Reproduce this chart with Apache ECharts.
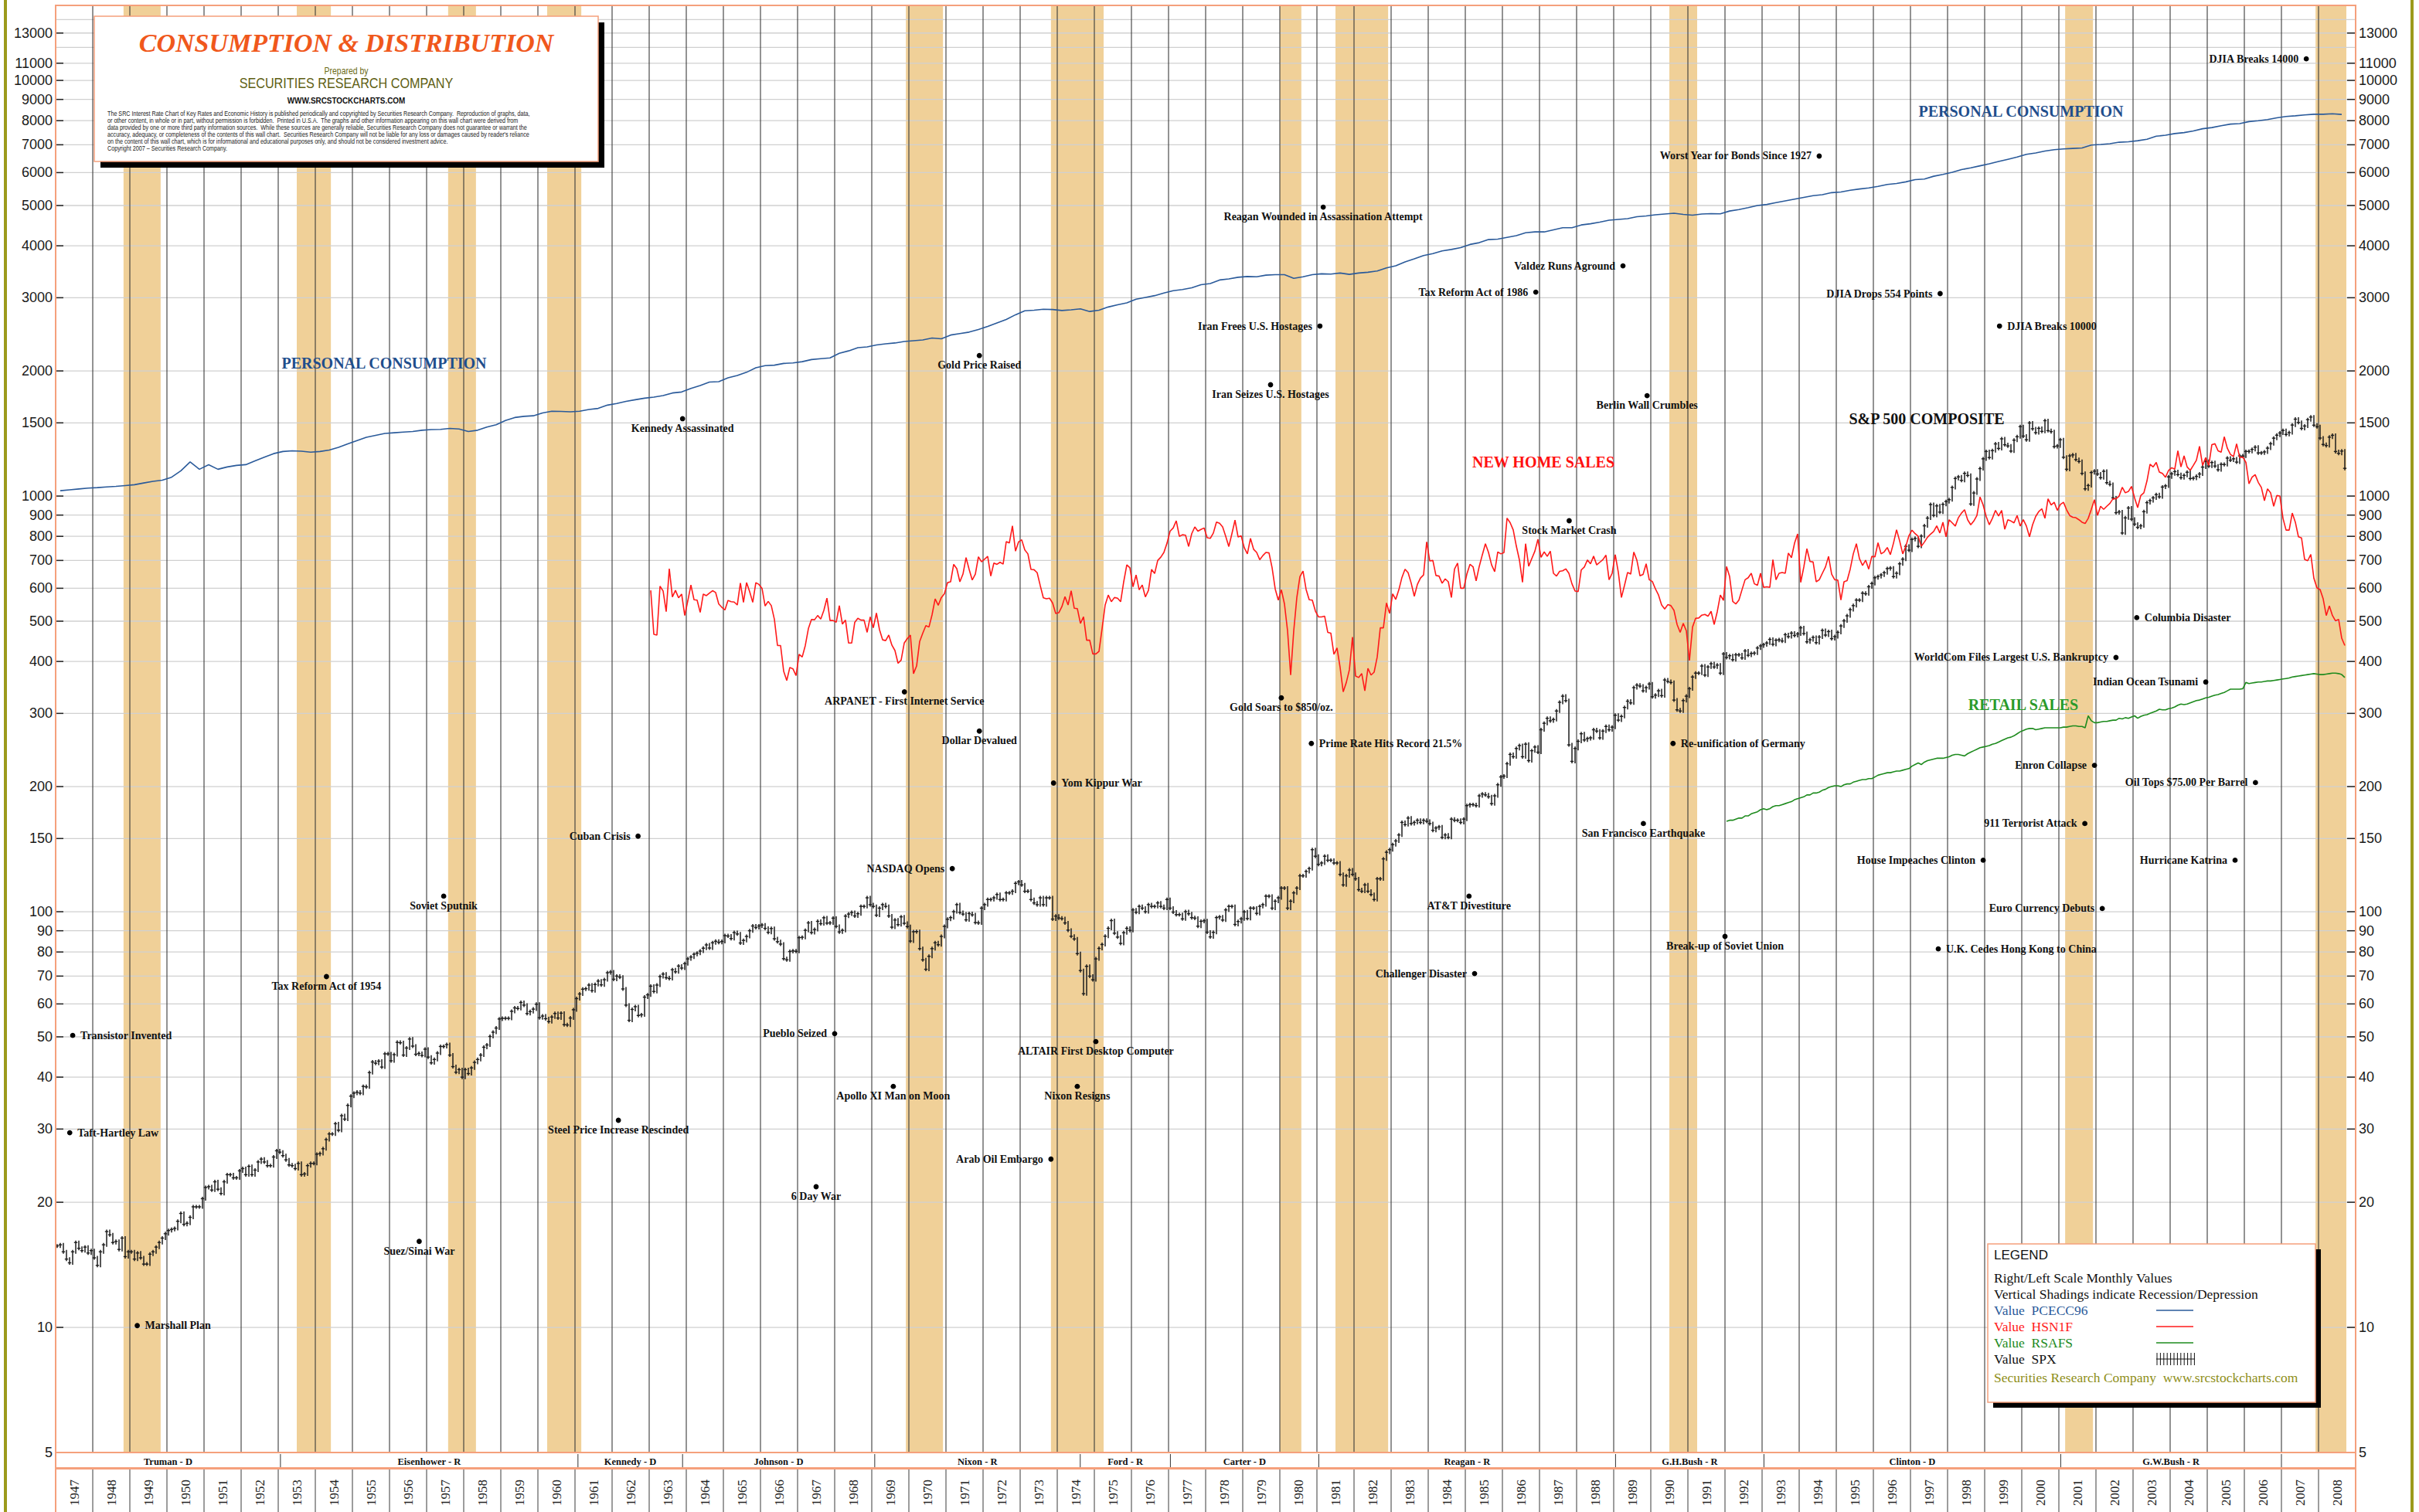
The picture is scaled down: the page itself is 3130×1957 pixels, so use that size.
<!DOCTYPE html>
<html><head><meta charset="utf-8">
<script src="https://cdn.jsdelivr.net/npm/echarts/dist/echarts.min.js"></script>
<style>html,body{margin:0;padding:0;background:#fff;}#c{width:3130px;height:1957px;}</style>
</head><body><div id="c"></div>
<script>
// ---------------- DATA ----------------
const yTickValues = [5,10,20,30,40,50,60,70,80,90,100,150,200,300,400,500,600,700,800,900,1000,1500,2000,3000,4000,5000,6000,7000,8000,9000,10000,11000,13000];
const yGridExtra = [12000,14000];
const yearLabels = Array.from({length:62},(_,i)=>1947+i);
const recessionStart = [1948.83,1953.5,1957.58,1960.25,1969.92,1973.83,1980.0,1981.5,1990.5,2001.17,2007.92];
const recessionEnd   = [1949.83,1954.42,1958.33,1961.17,1970.92,1975.25,1980.58,1982.92,1991.25,2001.92,2008.75];
const presNames = ['Truman - D','Eisenhower - R','Kennedy - D','Johnson - D','Nixon - R','Ford - R','Carter - D','Reagan - R','G.H.Bush - R','Clinton - D','G.W.Bush - R',''];
const presStart = [1947,1953.06,1961.08,1963.9,1969.08,1974.62,1977.05,1981.05,1989.05,1993.05,2001.05,2007.0];
const presEnd   = [1953.06,1961.08,1963.9,1969.08,1974.62,1977.05,1981.05,1989.05,1993.05,2001.05,2007.0,2009];

// S&P 500 monthly closes from Jan 1947
const spxStart = 1947;
const spxClose = [
15.7,15.8,15.2,14.6,14.3,15.2,16.0,15.5,15.3,15.6,15.1,15.3,
14.7,14.1,15.2,15.8,17.0,16.7,16.0,16.1,15.4,16.4,14.8,15.2,
15.2,14.6,15.1,14.7,14.2,14.2,15.0,15.2,15.6,16.0,16.4,16.8,
17.1,17.2,17.3,18.0,18.8,17.7,17.8,18.4,19.5,19.5,19.5,20.4,
21.7,21.8,21.4,22.4,21.5,21.0,22.4,23.3,23.3,22.9,22.9,23.8,
24.1,23.3,24.4,23.3,23.9,25.0,25.4,25.0,24.5,24.5,25.7,26.6,
26.4,25.9,25.3,24.6,24.5,24.1,24.8,23.3,23.4,24.5,24.8,24.8,
26.1,26.2,26.9,28.3,29.2,29.2,30.9,29.8,32.3,31.7,34.2,36.0,
36.6,36.8,36.6,38.0,37.9,41.0,43.5,43.2,43.7,42.3,45.5,45.5,
43.8,45.3,48.5,48.4,45.2,47.0,49.4,47.5,45.4,45.6,45.1,46.7,
44.7,43.3,44.1,45.7,47.4,47.4,47.9,45.2,42.4,41.1,41.7,40.0,
41.7,40.8,42.1,43.4,44.1,45.2,47.2,47.8,50.1,51.3,52.5,55.2,
55.4,55.4,55.4,57.6,58.7,58.5,60.5,59.6,56.9,57.5,58.3,59.9,
55.6,56.1,55.3,54.4,55.8,56.9,55.5,57.0,53.5,53.4,55.5,58.1,
61.8,63.4,65.1,65.3,66.6,64.6,66.8,68.1,66.7,68.6,71.3,71.6,
68.8,70.0,69.6,65.2,59.6,54.8,58.2,59.1,56.3,56.5,62.3,63.1,
66.2,64.3,66.6,69.8,70.8,69.4,69.1,72.5,71.7,74.0,73.2,75.0,
77.0,77.8,79.0,79.5,80.4,81.7,83.2,81.8,84.2,84.9,84.4,84.8,
87.6,87.4,86.2,89.1,88.4,84.1,85.3,87.2,90.0,92.4,91.6,92.4,
92.9,91.2,89.2,91.1,86.1,84.7,83.6,77.1,76.6,80.2,80.5,80.3,
86.6,86.8,90.2,94.0,89.1,90.6,94.8,93.6,96.7,93.9,94.0,96.5,
92.2,89.4,90.2,97.6,98.7,99.6,97.7,98.9,103,103,108,104,
103,98.1,102,104,103,97.7,91.8,95.5,93.1,97.2,93.8,92.1,
85.0,89.5,89.6,81.5,76.6,72.7,78.1,81.5,84.2,83.3,87.2,92.2,
95.9,96.8,100,104,99.6,98.7,95.6,99.0,98.3,94.2,94.0,102,
104,107,107,108,110,107,107,111,111,112,117,118,
116,112,112,107,105,104,108,104,108,108,96.0,97.6,
96.6,96.2,94.0,90.3,87.3,86.0,79.3,72.2,63.5,73.9,70.0,68.6,
77.0,81.6,83.4,87.3,91.2,95.2,88.8,86.9,83.9,89.0,91.2,90.2,
101,99.7,103,102,100,104,103,103,105,103,102,107,
102,99.8,98.4,98.4,96.1,100,98.9,96.8,96.5,92.3,94.8,95.1,
89.3,87.0,89.2,96.8,97.2,95.5,101,103,103,93.2,94.7,96.1,
99.9,96.3,102,102,99.1,103,104,109,109,102,106,108,
114,114,102,106,111,114,122,122,125,127,141,136,
130,131,136,133,133,131,131,123,116,122,126,123,
120,113,112,116,112,110,107,120,120,134,139,141,
145,148,153,164,162,168,163,164,166,164,166,165,
163,157,159,160,151,153,151,167,166,166,164,167,
180,181,181,180,190,192,191,189,182,190,202,211,
212,227,239,236,247,251,236,253,231,244,249,242,
274,284,292,288,290,304,319,330,322,252,230,247,
257,268,259,261,262,274,272,262,272,279,274,278,
297,289,295,310,321,318,346,351,349,340,346,353,
329,332,340,331,361,358,356,323,306,304,322,330,
344,367,375,375,390,371,388,395,388,392,375,417,
409,413,404,415,415,408,424,414,418,419,431,436,
439,443,452,440,450,451,448,464,459,468,462,466,
482,467,446,451,457,444,458,475,463,472,454,459,
470,487,501,515,533,545,562,562,584,582,605,616,
636,640,646,654,669,671,640,652,687,705,757,741,
786,791,757,801,848,885,954,899,947,915,955,970,
980,1049,1102,1112,1091,1134,1121,957,1017,1099,1164,1229,
1280,1238,1286,1335,1302,1373,1329,1320,1283,1363,1389,1469,
1394,1366,1499,1452,1421,1455,1431,1518,1437,1429,1315,1320,
1366,1240,1160,1249,1256,1224,1211,1134,1041,1060,1139,1148,
1130,1107,1147,1077,1067,990,912,916,815,886,936,880,
856,841,848,917,964,975,990,1008,996,1051,1058,1112,
1131,1145,1126,1107,1121,1141,1102,1104,1115,1130,1174,1212,
1181,1204,1181,1157,1192,1191,1234,1220,1229,1207,1249,1248,
1280,1281,1295,1311,1270,1270,1277,1304,1336,1378,1401,1418,
1438,1407,1421,1482,1531,1503,1455,1474,1527,1549,1481,1468,
1379,1331,1323,1386,1400,1280,1267,1283,1166];

// New home sales (HSN1F) monthly from Jan 1963
const homeStart = 1963;
const homeSales = [
593,465,463,607,591,527,669,572,593,569,581,516,
560,611,563,562,525,581,576,584,592,586,550,540,
532,561,557,556,547,618,555,619,589,555,619,613,
600,544,558,545,505,437,437,379,360,387,384,370,
416,410,437,480,505,504,516,506,531,568,502,502,
497,545,492,503,443,443,497,508,503,503,470,512,
482,523,477,451,449,463,438,425,396,403,443,454,
463,374,390,447,468,488,484,518,566,546,570,582,
619,622,685,669,622,649,711,666,628,649,714,695,
705,716,642,690,685,693,686,777,771,848,737,776,
785,742,726,666,665,654,609,569,566,568,553,522,
524,542,573,547,592,537,536,494,512,450,450,417,
417,423,480,547,578,557,570,568,557,622,683,672,
605,646,595,611,572,593,666,651,700,713,732,770,
823,838,872,800,807,805,756,812,843,823,831,838,
794,791,815,866,860,843,800,756,812,875,797,802,
751,726,791,745,732,703,719,732,730,672,598,562,
595,550,474,371,474,570,640,660,596,563,562,529,
512,512,514,470,468,416,431,387,338,356,382,458,
369,366,374,340,385,371,377,410,482,482,553,522,
582,564,595,637,667,654,617,574,613,635,646,776,
698,700,644,642,617,632,622,570,667,690,600,600,
649,685,676,625,677,722,768,732,683,658,734,726,
731,885,863,829,758,702,620,768,678,707,737,787,
712,734,716,737,652,642,659,661,668,652,615,591,
589,664,675,702,687,717,683,693,703,721,629,652,
723,655,570,610,655,649,733,701,643,648,687,629,
623,598,578,547,535,548,545,531,491,470,494,474,
402,484,508,509,517,519,514,528,491,527,578,561,
677,640,558,550,562,595,629,636,652,615,610,652,
603,605,603,703,629,652,655,652,729,711,770,811,
620,675,747,696,694,622,629,652,675,716,649,629,
628,562,622,626,667,726,768,707,681,701,667,716,
714,772,726,734,752,723,770,830,780,726,757,803,
828,812,800,757,775,796,810,822,848,815,865,798,
877,862,847,887,910,927,877,853,871,898,995,952,
893,853,884,924,895,924,832,877,871,862,898,847,
877,847,798,853,893,918,932,884,985,952,966,924,
955,966,927,898,889,887,877,865,859,884,929,980,
898,945,929,945,960,985,985,1000,1050,1018,1026,1055,
990,938,1003,1018,1087,1193,1175,1205,1142,1134,1110,1153,
1170,1161,1285,1175,1250,1175,1153,1185,1220,1317,1185,1238,
1185,1330,1336,1285,1275,1389,1303,1260,1245,1336,1238,1241,
1205,1071,1110,1126,1079,1049,975,1041,1018,945,1003,1000,
884,828,828,910,865,798,793,704,699,724,634,601,
596,566,516,544,516,501,505,455,437];

// Retail sales (RSAFS, $bn) monthly from Jan 1992
const retailStart = 1992;
const retailSales = [
165,166,166,167,168,168,170,170,172,173,174,176,
177,176,177,179,180,180,181,182,183,184,186,187,
188,189,191,191,193,193,194,196,197,199,200,201,
201,200,202,203,203,205,206,207,208,208,209,209,
211,213,214,215,216,216,217,218,218,219,220,221,
224,226,228,226,229,231,232,233,234,234,234,235,
236,238,239,239,238,237,240,242,244,246,248,249,
250,251,253,254,256,258,260,262,263,265,268,271,
273,275,276,276,274,275,276,277,277,277,277,277,
277,278,278,279,280,280,279,279,277,296,288,285,
285,286,287,287,288,289,289,292,291,293,292,294,
296,292,295,297,298,300,302,304,307,306,306,308,
309,311,314,316,315,316,318,320,322,323,325,327,
328,330,332,333,335,337,340,343,343,343,343,344,
356,354,355,356,357,357,358,359,359,360,361,362,
363,364,365,367,368,369,370,371,372,373,374,373,
372,372,373,374,375,375,374,372,366];

// Personal consumption (PCECC96) quarterly from 1947 Q1
const pceStart = 1947;
const pceQuarterly = [
1030,1035,1040,1045, 1048,1052,1055,1060, 1065,1075,1085,1092, 1110,1150,1208,1160,
1190,1160,1175,1185, 1190,1215,1240,1265, 1280,1285,1282,1275, 1280,1290,1310,1335,
1360,1385,1400,1415, 1420,1425,1430,1440, 1445,1447,1455,1450, 1430,1440,1465,1485,
1520,1545,1555,1560, 1585,1600,1598,1595, 1600,1615,1625,1655, 1670,1690,1705,1720,
1730,1745,1770,1780, 1815,1845,1880,1885, 1925,1950,1985,2035, 2060,2065,2085,2090,
2105,2130,2140,2150, 2205,2235,2275,2285, 2310,2325,2335,2355, 2365,2375,2400,2390,
2440,2460,2480,2515, 2560,2610,2660,2730, 2790,2800,2815,2810, 2795,2805,2820,2780,
2800,2850,2885,2915, 2975,3005,3035,3080, 3120,3140,3170,3225, 3245,3310,3330,3360,
3375,3370,3400,3410, 3410,3340,3370,3410, 3425,3420,3440,3415, 3440,3455,3480,3540,
3580,3660,3720,3790, 3830,3890,3920,3960, 4030,4070,4140,4150, 4190,4230,4300,4320,
4320,4370,4420,4420, 4490,4520,4560,4610, 4630,4650,4700,4720, 4750,4770,4790,4760,
4740,4770,4780,4775, 4850,4890,4940,5000, 5030,5080,5130,5180, 5230,5280,5310,5370,
5390,5440,5480,5510, 5560,5620,5650,5700, 5770,5790,5880,5940, 6010,6100,6160,6230,
6300,6380,6460,6540, 6640,6690,6760,6810, 6840,6860,6880,6990, 7010,7040,7100,7120,
7160,7220,7340,7380, 7450,7490,7560,7650, 7700,7780,7850,7870, 7960,8000,8050,8130,
8190,8220,8260,8290, 8290,8310,8280];

// Event annotations: name, date (decimal year), value, text side
const eventNames = ['Transistor Invented','Taft-Hartley Law','Marshall Plan','Tax Reform Act of 1954','Soviet Sputnik','Suez/Sinai War','Cuban Crisis','Steel Price Increase Rescinded','Kennedy Assassinated','Pueblo Seized','6 Day War','Apollo XI Man on Moon','NASDAQ Opens','ARPANET - First Internet Service','Dollar Devalued','Gold Price Raised','Yom Kippur War','ALTAIR First Desktop Computer','Nixon Resigns','Arab Oil Embargo','Gold Soars to $850/oz.','Prime Rate Hits Record 21.5%','Iran Seizes U.S. Hostages','Iran Frees U.S. Hostages','Reagan Wounded in Assassination Attempt','Stock Market Crash','Tax Reform Act of 1986','Valdez Runs Aground','Berlin Wall Crumbles','AT&T Divestiture','Challenger Disaster','Worst Year for Bonds Since 1927','Re-unification of Germany','San Francisco Earthquake','Break-up of Soviet Union','DJIA Drops 554 Points','DJIA Breaks 10000','DJIA Breaks 14000','Columbia Disaster','WorldCom Files Largest U.S. Bankruptcy','Indian Ocean Tsunami','Enron Collapse','Oil Tops $75.00 Per Barrel','911 Terrorist Attack','House Impeaches Clinton','Euro Currency Debuts','U.K. Cedes Hong Kong to China','Hurricane Katrina'];
const eventDates = [1947.46,1947.38,1949.2,1954.3,1957.46,1956.8,1962.7,1962.17,1963.9,1968.0,1967.5,1969.58,1971.17,1969.88,1971.9,1971.9,1973.9,1975.04,1974.54,1973.83,1980.04,1980.85,1979.75,1981.08,1981.17,1987.8,1986.9,1989.25,1989.9,1985.1,1985.25,1994.54,1990.6,1989.8,1992.0,1997.8,1999.4,2007.67,2003.1,2002.54,2004.96,2001.96,2006.3,2001.7,1998.96,2002.17,1997.75,2005.75];
const eventValues = [50.4,29.4,10.1,69.8,109,16.1,152,31.5,1535,50.9,21.8,38.0,127,338,272,2178,204,48.7,38,25.4,327,254,1853,2564,4956,872,3095,3580,1744,109,71,6576,254,163,87.2,3069,2564,11270,510,409,357,225,204.5,163,133,101.8,81.4,133];
const eventSides = ['r','r','r','b','b','b','l','b','b','l','b','b','l','b','b','b','r','b','b','l','b','r','b','l','b','b','l','l','b','b','l','l','r','b','b','l','r','l','r','l','l','l','l','l','l','l','r','l'];

const disclaimer = [
'The SRC Interest Rate Chart of Key Rates and Economic History is published periodically and copyrighted by Securities Research Company.  Reproduction of graphs, data,',
'or other content, in whole or in part, without permission is forbidden.  Printed in U.S.A.  The graphs and other information appearing on this wall chart were derived from',
'data provided by one or more third party information sources.  While these sources are generally reliable, Securities Research Company does not guarantee or warrant the',
'accuracy, adequacy, or completeness of the contents of this wall chart.  Securities Research Company will not be liable for any loss or damages caused by reader\'s reliance',
'on the content of this wall chart, which is for informational and educational purposes only, and should not be considered investment advice.',
'Copyright 2007 \u2013 Securities Research Company.'];

// ---------------- CHART ----------------
const X_MIN = 1947, X_MAX = 2009, Y_MIN = 5, Y_MAX = 15150;
const ORANGE = '#F5A07C', OLIVE = '#9C9A1C';
const SERIF = '"Liberation Serif","Times New Roman",serif';
const SANS = '"Liberation Sans",Arial,sans-serif';
const BLUE = '#2A5A9A', RED = '#FF1A1A', GREEN = '#1E8B1E';

function monthly(start, arr){ return arr.map((v,i)=>[start + (i+0.5)/12, v]); }
function quarterly(start, arr){ return arr.map((v,i)=>[start + (i+0.5)/4, v]); }
function T(x,y,text,font,fill,align,extra){ return Object.assign({type:'text', x:x, y:y, style:{text:text, font:font, fill:fill, textAlign:align||'left', textVerticalAlign:'middle'}}, extra||{}); }

const chart = echarts.init(document.getElementById('c'), null, {renderer:'svg', width:3130, height:1957});

const spxData = spxClose.map((c,i)=>{ const p = i ? spxClose[i-1] : c; return [spxStart + (i+0.5)/12, Math.min(p,c), Math.max(p,c), c]; });
const gridData = yTickValues.map(v=>[X_MIN, v, 1]).concat(yGridExtra.map(v=>[X_MIN, v, 0]));

// graphic (layout elements)
const G = [];
G.push({type:'rect', z:50, silent:true, shape:{x:72,y:7,width:2976,height:1873}, style:{fill:'none', stroke:ORANGE, lineWidth:2}});
G.push({type:'line', z:50, shape:{x1:72,y1:1880,x2:72,y2:1957}, style:{stroke:ORANGE, lineWidth:2}});
G.push({type:'line', z:50, shape:{x1:3048,y1:1880,x2:3048,y2:1957}, style:{stroke:ORANGE, lineWidth:2}});
G.push({type:'line', z:50, shape:{x1:72,y1:1900.5,x2:3048,y2:1900.5}, style:{stroke:ORANGE, lineWidth:3}});
G.push({type:'rect', z:50, shape:{x:5,y:0,width:4,height:1957}, style:{fill:OLIVE}});
G.push({type:'rect', z:50, shape:{x:3119,y:0,width:4,height:1957}, style:{fill:OLIVE}});
// title box
G.push({type:'rect', z:100, shape:{x:130,y:29,width:652,height:188}, style:{fill:'#000'}});
G.push({type:'rect', z:101, shape:{x:122,y:21,width:652,height:188}, style:{fill:'#fff', stroke:ORANGE, lineWidth:1.5}});
G.push(T(448,55,'CONSUMPTION & DISTRIBUTION','italic bold 34px '+SERIF,'#F0581C','center',{z:102}));
G.push(T(448,92,'Prepared by','12px '+SANS,'#6B6B16','center',{z:102, scaleX:0.87}));
G.push(T(448,108,'SECURITIES RESEARCH COMPANY','18px '+SANS,'#5E5E12','center',{z:102, scaleX:0.9}));
G.push(T(448,130,'WWW.SRCSTOCKCHARTS.COM','bold 11px '+SANS,'#111','center',{z:102, scaleX:0.9}));
disclaimer.forEach((s,i)=>G.push(T(139,147+i*9,s,'9px '+SANS,'#222','left',{z:102, scaleX:0.8})));
// legend box
G.push({type:'rect', z:100, shape:{x:2579,y:1617,width:424,height:205}, style:{fill:'#000'}});
G.push({type:'rect', z:101, shape:{x:2572,y:1610,width:424,height:205}, style:{fill:'#fff', stroke:ORANGE, lineWidth:1.5}});
G.push(T(2580,1624,'LEGEND','17px '+SANS,'#111','left',{z:102}));
G.push(T(2580,1654,'Right/Left Scale Monthly Values','17.5px '+SERIF,'#111','left',{z:102}));
G.push(T(2580,1675,'Vertical Shadings indicate Recession/Depression','17.5px '+SERIF,'#111','left',{z:102}));
const legRows = [['Value  PCECC96',BLUE],['Value  HSN1F',RED],['Value  RSAFS',GREEN]];
legRows.forEach((r,i)=>{ const y = 1696 + i*21; G.push(T(2580,y,r[0],'17.5px '+SERIF,r[1],'left',{z:102})); G.push({type:'line', z:102, shape:{x1:2790,y1:y,x2:2838,y2:y}, style:{stroke:r[1], lineWidth:1.5}}); });
G.push(T(2580,1759,'Value  SPX','17.5px '+SERIF,'#111','left',{z:102}));
G.push({type:'line', z:102, shape:{x1:2790,y1:1759,x2:2840,y2:1759}, style:{stroke:'#111', lineWidth:1}});
for (let k=0;k<12;k++){ G.push({type:'line', z:102, shape:{x1:2791+k*4.4,y1:1751,x2:2791+k*4.4,y2:1767}, style:{stroke:'#111', lineWidth:1}}); }
G.push(T(2580,1783,'Securities Research Company  www.srcstockcharts.com','17.5px '+SERIF,'#8E8E18','left',{z:102}));
// series titles
G.push(T(497,470,'PERSONAL CONSUMPTION','bold 20px '+SERIF,'#1F4E8C','center',{z:20}));
G.push(T(2615,144,'PERSONAL CONSUMPTION','bold 20px '+SERIF,'#1F4E8C','center',{z:20}));
G.push(T(1997,598,'NEW HOME SALES','bold 20px '+SERIF,'#FF1010','center',{z:20}));
G.push(T(2493,542,'S&P 500 COMPOSITE','bold 20px '+SERIF,'#111','center',{z:20}));
G.push(T(2618,912,'RETAIL SALES','bold 20px '+SERIF,'#2A9A2A','center',{z:20}));

const option = {
  animation:false,
  backgroundColor:'#fff',
  grid:{left:72, top:7, width:2976, height:1873, show:false},
  xAxis:{type:'value', min:X_MIN, max:X_MAX, interval:1, axisLine:{show:false}, axisTick:{show:false}, axisLabel:{show:false}, splitLine:{show:false}},
  yAxis:{type:'log', logBase:10, min:Y_MIN, max:Y_MAX, axisLine:{show:false}, axisTick:{show:false}, axisLabel:{show:false}, splitLine:{show:false}},
  graphic:G,
  series:[
    { // recession shading
      type:'custom', z:1, silent:true, encode:{x:[0,1], y:2},
      data: recessionStart.map((s,i)=>[s, recessionEnd[i], Y_MIN]),
      renderItem:(p,api)=>{ const a=api.coord([api.value(0),Y_MAX]); const b=api.coord([api.value(1),Y_MIN]);
        return {type:'rect', shape:{x:a[0], y:a[1], width:b[0]-a[0], height:b[1]-a[1]}, style:{fill:'#F0D098'}}; }
    },
    { // horizontal grid + y tick labels (both sides)
      type:'custom', z:2, silent:true, encode:{x:0, y:1}, data:gridData,
      renderItem:(p,api)=>{ const v=api.value(1); const a=api.coord([X_MIN,v]); const b=api.coord([X_MAX,v]);
        const ch=[{type:'line', shape:{x1:a[0],y1:a[1],x2:b[0],y2:b[1]}, style:{stroke:'#d0d0d0', lineWidth:1.3}}];
        if (api.value(2)) {
          ch.push({type:'line', shape:{x1:a[0],y1:a[1],x2:a[0]+10,y2:a[1]}, style:{stroke:'#222', lineWidth:1.5}});
          ch.push({type:'line', shape:{x1:b[0]-11,y1:b[1],x2:b[0],y2:b[1]}, style:{stroke:'#222', lineWidth:1.5}});
          ch.push(T(a[0]-4,a[1],String(v),'18px '+SANS,'#1a1a1a','right'));
          ch.push(T(b[0]+4,b[1],String(v),'18px '+SANS,'#1a1a1a','left'));
        }
        return {type:'group', children:ch}; }
    },
    { // year lines, year row separators, year labels
      type:'custom', z:3, silent:true, encode:{x:0, y:1},
      data: yearLabels.map(y=>[y, Y_MIN]),
      renderItem:(p,api)=>{ const y=api.value(0); const bot=api.coord([y,Y_MIN]); const top=api.coord([y,Y_MAX]); const c=api.coord([y+0.5,Y_MIN]);
        const ch=[];
        if (y>X_MIN) {
          ch.push({type:'line', shape:{x1:bot[0],y1:top[1],x2:bot[0],y2:bot[1]}, style:{stroke:'#3a3a3a', lineWidth:1.1}});
          ch.push({type:'line', shape:{x1:bot[0],y1:bot[1]+22,x2:bot[0],y2:1957}, style:{stroke:'#3a3a3a', lineWidth:1}});
        }
        ch.push(T(c[0], bot[1]+52, String(y), '17px '+SERIF, '#222', 'center', {rotation:Math.PI/2}));
        return {type:'group', children:ch}; }
    },
    { // presidents band
      type:'custom', z:3, silent:true, encode:{x:[0,1], y:2},
      data: presStart.map((s,i)=>[s, presEnd[i], Y_MIN]),
      renderItem:(p,api)=>{ const s=api.value(0), e=api.value(1); const a=api.coord([s,Y_MIN]); const b=api.coord([e,Y_MIN]);
        const ch=[];
        if (s>X_MIN) ch.push({type:'line', shape:{x1:a[0],y1:a[1]+2,x2:a[0],y2:a[1]+19}, style:{stroke:'#333', lineWidth:1}});
        ch.push(T((a[0]+b[0])/2, a[1]+11.5, presNames[p.dataIndex], 'bold 12.5px '+SERIF, '#111', 'center'));
        return {type:'group', children:ch}; }
    },
    { type:'line', name:'PCECC96', z:5, silent:true, showSymbol:false, data:quarterly(pceStart,pceQuarterly), lineStyle:{color:BLUE, width:1.6} },
    { type:'line', name:'HSN1F', z:5, silent:true, showSymbol:false, data:monthly(homeStart,homeSales), lineStyle:{color:RED, width:1.6} },
    { type:'line', name:'RSAFS', z:5, silent:true, showSymbol:false, data:monthly(retailStart,retailSales), lineStyle:{color:GREEN, width:1.6} },
    { // S&P 500 monthly bars
      type:'custom', name:'SPX', z:5, silent:true, encode:{x:0, y:[1,2,3]}, data:spxData,
      renderItem:(p,api)=>{ const x=api.value(0); const lo=api.coord([x,api.value(1)]); const hi=api.coord([x,api.value(2)]); const c=api.coord([x,api.value(3)]);
        return {type:'group', children:[
          {type:'line', shape:{x1:lo[0],y1:lo[1]+2.5,x2:hi[0],y2:hi[1]-2.5}, style:{stroke:'#1c1c1c', lineWidth:1.5}},
          {type:'line', shape:{x1:c[0]-2.2,y1:c[1],x2:c[0]+2.2,y2:c[1]}, style:{stroke:'#1c1c1c', lineWidth:1.4}} ]}; }
    },
    { // event annotations
      type:'custom', z:6, silent:true, encode:{x:0, y:1},
      data: eventDates.map((d,i)=>[d, eventValues[i], i]),
      renderItem:(p,api)=>{ const q=api.coord([api.value(0),api.value(1)]); const i=api.value(2); const side=eventSides[i]; const f='bold 14px '+SERIF;
        const ch=[{type:'circle', shape:{cx:q[0], cy:q[1], r:3.4}, style:{fill:'#000'}}];
        if (side==='r') ch.push(T(q[0]+10,q[1],eventNames[i],f,'#111','left'));
        else if (side==='l') ch.push(T(q[0]-10,q[1],eventNames[i],f,'#111','right'));
        else ch.push(T(q[0],q[1]+12.5,eventNames[i],f,'#111','center'));
        return {type:'group', children:ch}; }
    }
  ]
};
chart.setOption(option);
</script>
</body></html>
